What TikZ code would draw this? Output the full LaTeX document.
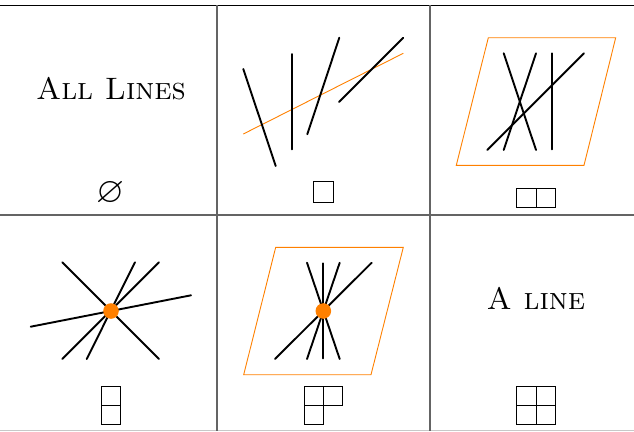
\documentclass[tikz,border=0pt]{standalone}
\usepackage{amssymb}
\definecolor{myorange}{RGB}{255,128,0}
\definecolor{rulegray}{RGB}{100,100,100}
\definecolor{lightrule}{RGB}{200,200,200}
\begin{document}
\begin{tikzpicture}[x=1pt,y=-1pt,
  seg/.style={line width=1.9pt, line cap=round},
  oline/.style={myorange, line width=0.9pt},
  dotst/.style={circle, fill=myorange, minimum size=15.6pt, inner sep=0pt},
  yb/.style={line width=0.75pt},
  toprule/.style={black, line width=1pt},
  midrule/.style={rulegray, line width=1.2pt},
  botrule/.style={lightrule, line width=1pt},
  vrule/.style={rulegray, line width=1.2pt},
  title/.style={font=\fontsize{31}{36}\selectfont, inner sep=0pt, anchor=base},
  sym/.style={font=\fontsize{36}{40}\selectfont, inner sep=0pt}]
\useasboundingbox (0,0) rectangle (634,431);
% table rules
\draw[toprule] (0,5) -- (634,5);
\draw[midrule] (0,215) -- (634,215);
\draw[botrule] (0,430.5) -- (634,430.5);
\draw[vrule] (217,5) -- (217,431);
\draw[vrule] (430,5) -- (430,431);
% cell 1
\node[title] (t1) at (111,99.3) {\textsc{All Lines}};
\node[sym] (s1) at (110.5,193.5) {$\varnothing$};
% cell 2
\draw[oline] (243.3,134) -- (403.3,53.3);
\draw[seg] (243.3,69) -- (275.7,166);
\draw[seg] (291.7,54) -- (291.7,149.3);
\draw[seg] (339.3,37.7) -- (307.3,134.3);
\draw[seg] (403.3,37.7) -- (339,102);
\draw[yb] (313.3,181.7) rectangle (333.3,202.3);
% cell 3
\draw[oline] (488.3,37.7) -- (615.7,37.7) -- (584,165.3) -- (456.3,165.3) -- cycle;
\draw[seg] (503.7,53.3) -- (536,150);
\draw[seg] (536,53.3) -- (503.7,150);
\draw[seg] (551.7,53.3) -- (551.7,149.3);
\draw[seg] (584,53.3) -- (487.3,150);
\draw[yb] (516.7,188.3) rectangle (555,207.3);
\draw[yb] (536,188.3) -- (536,207.3);
% cell 4
\draw[seg] (62.3,262.3) -- (159,359);
\draw[seg] (135,262.3) -- (86.7,359);
\draw[seg] (159,262.3) -- (62.3,359);
\draw[seg] (30.7,326.7) -- (191,295.3);
\node[dotst] (d4) at (111,311) {};
\draw[yb] (101.7,386) rectangle (120.7,424);
\draw[yb] (101.7,405) -- (120.7,405);
% cell 5
\draw[oline] (275.7,247.3) -- (403.3,247.3) -- (371,374.7) -- (243.7,374.7) -- cycle;
\draw[seg] (307,262.7) -- (339.7,359);
\draw[seg] (323.3,263.3) -- (323.3,358.3);
\draw[seg] (339.7,262.7) -- (307,359);
\draw[seg] (371.7,262.7) -- (275,359);
\node[dotst] (d5) at (323.3,311) {};
\draw[yb] (304.3,386) rectangle (342.7,405);
\draw[yb] (323.5,386) -- (323.5,424) -- (304.3,424) -- (304.3,405);
% cell 6
\node[title] (t6) at (536,309.3) {\textsc{A line}};
\draw[yb] (516.7,386) rectangle (555,424);
\draw[yb] (536,386) -- (536,424);
\draw[yb] (516.7,405) -- (555,405);
\end{tikzpicture}
\end{document}
